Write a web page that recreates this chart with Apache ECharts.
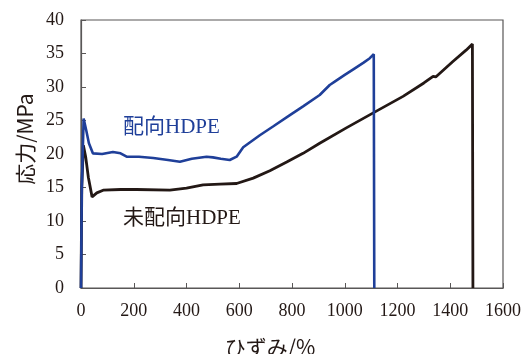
<!DOCTYPE html>
<html>
<head>
<meta charset="utf-8">
<script src="https://cdn.jsdelivr.net/npm/echarts@6/dist/echarts.min.js"></script>
<style>
  html, body { margin: 0; padding: 0; background: #fff; }
  #chart { width: 523px; height: 354px; }
</style>
</head>
<body>
<div id="chart"></div>
<script>
// Stress-strain curves of oriented and non-oriented HDPE
const orientedStrain = [0, 3, 10, 20, 30, 45, 80, 121, 150, 173, 220, 274, 330, 375, 420, 476, 500, 530, 564, 590, 615, 678, 728, 792, 842, 905, 943, 950, 962, 1000, 1031, 1070, 1095, 1110, 1112];
const orientedStress = [0, 15, 25.3, 23.5, 21.6, 20.1, 20.0, 20.3, 20.1, 19.6, 19.6, 19.4, 19.1, 18.85, 19.3, 19.6, 19.5, 19.3, 19.1, 19.6, 21.0, 22.8, 24.1, 25.8, 27.1, 28.8, 30.3, 30.1, 30.8, 31.8, 32.6, 33.6, 34.3, 34.9, 0];

const plainStrain = [0, 3, 9, 18, 28, 42, 60, 84, 150, 211, 337, 400, 463, 527, 590, 653, 716, 780, 842, 905, 1006, 1120, 1221, 1300, 1335, 1345, 1410, 1460, 1484, 1486];
const plainStress = [0, 15, 21.3, 19.5, 16.5, 13.6, 14.2, 14.6, 14.7, 14.7, 14.6, 14.9, 15.4, 15.5, 15.6, 16.4, 17.5, 18.8, 20.1, 21.6, 23.9, 26.4, 28.6, 30.6, 31.6, 31.5, 33.8, 35.5, 36.4, 0];

const xTicks = [0, 200, 400, 600, 800, 1000, 1200, 1400, 1600];
const yTicks = [0, 5, 10, 15, 20, 25, 30, 35, 40];

const orientedName = '配向HDPE';
const plainName = '未配向HDPE';
const xName = 'ひずみ/%';
const yName = '応力/MPa';

const pairs = (xs, ys) => xs.map((x, i) => [x, ys[i]]);

const serif = "'Liberation Serif', 'Noto Sans CJK JP', serif";
const cjk = "'Noto Sans CJK JP', sans-serif";
const axisColor = '#595757';

const chart = echarts.init(document.getElementById('chart'));
chart.setOption({
  animation: false,
  backgroundColor: '#fff',
  grid: {
    left: 81, top: 20, right: 20, bottom: 66,
    containLabel: false, outerBoundsMode: 'none',
    show: true, borderColor: axisColor, borderWidth: 1.2
  },
  xAxis: {
    type: 'value',
    min: xTicks[0], max: xTicks[xTicks.length - 1], interval: 200,
    axisLine: { show: true, lineStyle: { color: axisColor, width: 1.2 } },
    axisTick: { show: true, inside: true, length: 5, lineStyle: { color: axisColor } },
    axisLabel: { color: '#231815', fontFamily: serif, fontSize: 18, margin: 14, formatter: v => String(v) },
    splitLine: { show: false }
  },
  yAxis: {
    type: 'value',
    min: yTicks[0], max: yTicks[yTicks.length - 1], interval: 5,
    axisLine: { show: true, lineStyle: { color: axisColor, width: 1.2 } },
    axisTick: { show: true, inside: true, length: 5, lineStyle: { color: axisColor } },
    axisLabel: { color: '#231815', fontFamily: serif, fontSize: 18, margin: 17, formatter: v => String(v) },
    splitLine: { show: false }
  },
  graphic: [
    { type: 'text', x: 123, y: 127, style: { text: orientedName, fill: '#1f3f99', font: '21px ' + serif, textVerticalAlign: 'middle' } },
    { type: 'text', x: 123, y: 218, style: { text: plainName, fill: '#231815', font: '21px ' + serif, textVerticalAlign: 'middle' } },
    { type: 'text', x: 25, y: 139, rotation: Math.PI / 2, style: { text: yName, fill: '#231815', font: '21px ' + cjk, textAlign: 'center', textVerticalAlign: 'middle' } },
    { type: 'text', x: 270, y: 347, style: { text: xName, fill: '#231815', font: '21px ' + cjk, textAlign: 'center', textVerticalAlign: 'middle' } }
  ],
  series: [
    {
      name: plainName, type: 'line', data: pairs(plainStrain, plainStress),
      showSymbol: false, smooth: false,
      lineStyle: { color: '#231815', width: 2.8 }, z: 2
    },
    {
      name: orientedName, type: 'line', data: pairs(orientedStrain, orientedStress),
      showSymbol: false, smooth: false,
      lineStyle: { color: '#1f3f99', width: 2.6 }, z: 3
    }
  ]
});
</script>
</body>
</html>
